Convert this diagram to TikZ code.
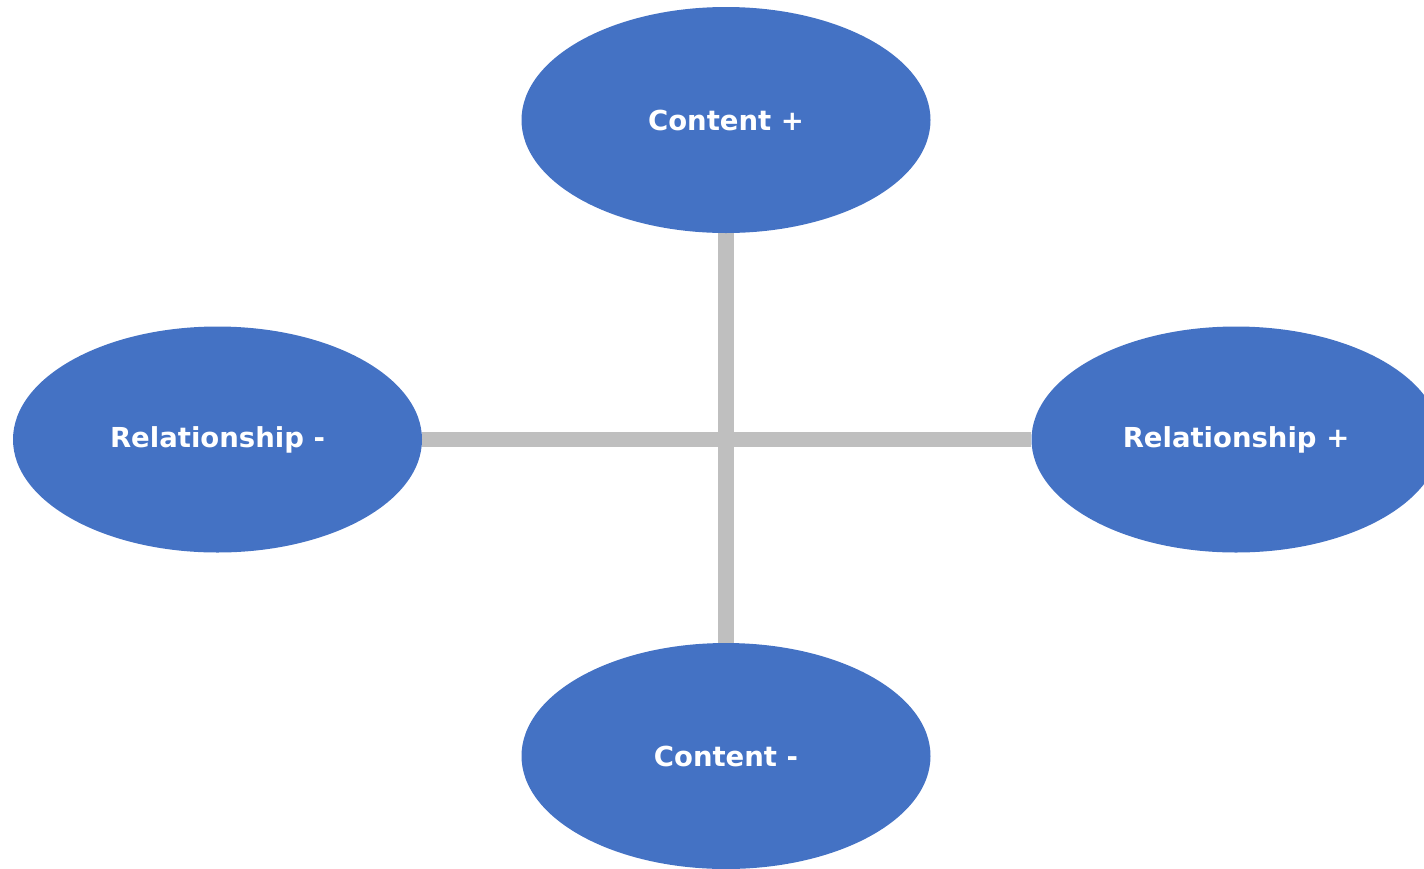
\documentclass[tikz,border=0pt]{standalone}
\usepackage{fontspec}
\setmainfont{DejaVu Sans}
\usetikzlibrary{shapes.geometric,backgrounds}
\definecolor{blobc}{HTML}{4472C4}
\definecolor{barc}{HTML}{BFBFBF}
\begin{document}
\begin{tikzpicture}[x=1pt,y=-1pt,
  blob/.style={ellipse, fill=blobc, draw=none, minimum width=409pt, minimum height=226pt,
    inner sep=0pt, text=white, font=\fontsize{27.5}{32}\selectfont\bfseries},
  bar/.style={draw=barc, line width=15.5pt}]
\clip (0,0) rectangle (1424,868);
\node[blob] (cp) at (726,120) {Content +};
\node[blob] (rm) at (217.5,439.5) {Relationship -};
\node[blob] (rp) at (1236,439.5) {Relationship +};
\node[blob] (cm) at (726,756) {Content -};
\begin{scope}[on background layer]
\draw[bar] (cp.south) -- (cm.north);
\draw[bar] (rm.east) -- (rp.west);
\end{scope}
\end{tikzpicture}
\end{document}
